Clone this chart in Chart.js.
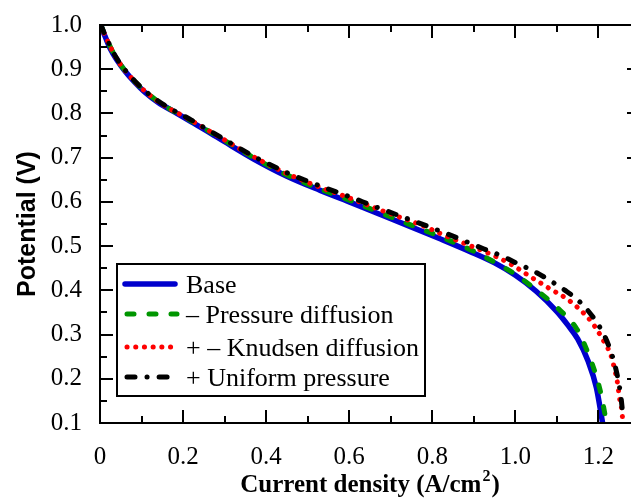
<!DOCTYPE html>
<html>
<head>
<meta charset="utf-8">
<script src="https://cdn.jsdelivr.net/npm/chart.js@4.4.0/dist/chart.umd.min.js"></script>
<style>
  html, body { margin: 0; padding: 0; background: #fff; overflow: hidden; }
  #wrap { width: 631px; height: 499px; overflow: hidden; }
</style>
</head>
<body>
<div id="wrap"><canvas id="polcurve" width="645" height="499"></canvas></div>
<script>
// polarization curves
const seriesNames = ['Base', '\u2013 Pressure diffusion', '+ \u2013 Knudsen diffusion', '+ Uniform pressure'];

const baseX = [0.002, 0.006, 0.012, 0.024, 0.04, 0.06, 0.084, 0.108, 0.14, 0.18, 0.22, 0.26, 0.30, 0.37, 0.45, 0.53, 0.60, 0.66, 0.74, 0.82, 0.89, 0.95, 1.0, 1.05, 1.10, 1.125, 1.15, 1.175, 1.195, 1.21];
const baseV = [1.0, 0.988, 0.975, 0.948, 0.922, 0.896, 0.870, 0.848, 0.825, 0.803, 0.781, 0.759, 0.736, 0.697, 0.658, 0.626, 0.600, 0.577, 0.547, 0.516, 0.488, 0.462, 0.434, 0.398, 0.352, 0.323, 0.290, 0.240, 0.180, 0.100];

const pressX = [0.002, 0.012, 0.04, 0.084, 0.14, 0.22, 0.30, 0.37, 0.45, 0.53, 0.60, 0.66, 0.74, 0.82, 0.896, 0.947, 1.0, 1.053, 1.104, 1.149, 1.175, 1.193, 1.207, 1.217, 1.22];
const pressV = [1.0, 0.977, 0.924, 0.872, 0.827, 0.783, 0.739, 0.700, 0.661, 0.629, 0.604, 0.581, 0.551, 0.521, 0.490, 0.465, 0.436, 0.399, 0.358, 0.311, 0.258, 0.211, 0.162, 0.113, 0.100];

const knudX = [0.002, 0.012, 0.04, 0.084, 0.14, 0.22, 0.30, 0.37, 0.45, 0.53, 0.60, 0.66, 0.72, 0.78, 0.83, 0.875, 0.947, 0.993, 1.036, 1.084, 1.128, 1.173, 1.19, 1.217, 1.229, 1.238, 1.245, 1.251, 1.256, 1.259];
const knudV = [1.0, 0.977, 0.924, 0.872, 0.827, 0.784, 0.740, 0.702, 0.664, 0.633, 0.609, 0.587, 0.566, 0.545, 0.524, 0.507, 0.479, 0.457, 0.431, 0.403, 0.378, 0.340, 0.320, 0.278, 0.256, 0.225, 0.195, 0.155, 0.130, 0.100];

const uniX = [0.002, 0.012, 0.04, 0.084, 0.14, 0.22, 0.30, 0.37, 0.45, 0.53, 0.60, 0.66, 0.74, 0.78, 0.851, 0.923, 0.969, 1.004, 1.043, 1.08, 1.118, 1.154, 1.188, 1.212, 1.227, 1.239, 1.248, 1.254, 1.258];
const uniV = [1.0, 0.978, 0.925, 0.873, 0.828, 0.785, 0.741, 0.703, 0.666, 0.636, 0.612, 0.590, 0.562, 0.548, 0.522, 0.494, 0.477, 0.461, 0.444, 0.424, 0.401, 0.375, 0.338, 0.302, 0.269, 0.233, 0.195, 0.160, 0.125];

const xTickLabels = ['0', '0.2', '0.4', '0.6', '0.8', '1.0', '1.2'];
const yTickLabels = ['0.1', '0.2', '0.3', '0.4', '0.5', '0.6', '0.7', '0.8', '0.9', '1.0'];

function pts(xs, ys) {
    return xs.map(function (x, i) { return { x: x, y: ys[i] }; });
}

const serif = "'Liberation Serif', 'Times New Roman', serif";
const sans = "'Liberation Sans', Arial, sans-serif";

const styles = [
    { color: 'rgb(0,0,205)', width: 5.5, dash: [], cap: 'round' },
    { color: 'rgb(0,150,0)', width: 5, dash: [7, 15], cap: 'round' },
    { color: 'rgb(255,0,0)', width: 5, dash: [0.1, 8.6], cap: 'round' },
    { color: 'rgb(0,0,0)', width: 5, dash: [8, 12, 0.1, 12], cap: 'round' }
];

// inward ticks on all four sides, frame, legend box and axis titles
const framePlugin = {
    id: 'frame',
    afterDraw: function (chart) {
        const c = chart.ctx;
        const a = chart.chartArea;
        const xs = chart.scales.x;
        const ys = chart.scales.y;
        c.save();
        c.strokeStyle = '#000';
        c.lineWidth = 2;
        c.setLineDash([]);
        c.strokeRect(a.left, a.top, a.right - a.left, a.bottom - a.top);

        c.beginPath();
        for (let i = 0; i <= 13; i++) {
            const px = Math.round(xs.getPixelForValue(i / 10));
            const len = (i % 2 === 0) ? 13 : 7;
            c.moveTo(px, a.bottom); c.lineTo(px, a.bottom - len);
            c.moveTo(px, a.top); c.lineTo(px, a.top + len);
        }
        for (let j = 2; j <= 20; j++) {
            const py = Math.round(ys.getPixelForValue(j / 20));
            const len = (j % 2 === 0) ? 13 : 7;
            c.moveTo(a.left, py); c.lineTo(a.left + len, py);
            c.moveTo(a.right, py); c.lineTo(a.right - len, py);
        }
        c.stroke();

        // legend
        const lx = 117, ly = 264, lw = 308, lh = 132;
        c.fillStyle = '#fff';
        c.fillRect(lx, ly, lw, lh);
        c.lineWidth = 2;
        c.strokeRect(lx, ly, lw, lh);
        const rows = [284, 314, 347, 377];
        c.font = '26px ' + serif;
        c.textAlign = 'left';
        c.textBaseline = 'alphabetic';
        chart.data.datasets.forEach(function (ds, k) {
            const s = styles[k];
            c.beginPath();
            c.strokeStyle = s.color;
            c.lineWidth = s.width;
            c.lineCap = s.cap;
            c.setLineDash(s.dash);
            c.moveTo(k === 0 ? 125 : 127, rows[k]);
            c.lineTo(k === 0 ? 175 : 177, rows[k]);
            c.stroke();
            c.setLineDash([]);
            c.fillStyle = '#000';
            c.fillText(ds.label, 186, rows[k] + 9);
        });

        // x title with superscript
        c.fillStyle = '#000';
        const t1 = 'Current density (A/cm';
        c.font = 'bold 25px ' + serif;
        const w1 = c.measureText(t1).width;
        c.font = 'bold 16px ' + serif;
        const w2 = c.measureText('2').width;
        c.font = 'bold 25px ' + serif;
        const w3 = c.measureText(')').width;
        let tx = (a.left + 640) / 2 - (w1 + w2 + w3 + 2) / 2;
        const base = 492;
        c.fillText(t1, tx, base);
        tx += w1 + 1;
        c.font = 'bold 16px ' + serif;
        c.fillText('2', tx, base - 11);
        tx += w2 + 1;
        c.font = 'bold 25px ' + serif;
        c.fillText(')', tx, base);

        // y title
        c.translate(35, (a.top + a.bottom) / 2);
        c.rotate(-Math.PI / 2);
        c.font = 'bold 25px ' + sans;
        c.textAlign = 'center';
        c.fillText('Potential (V)', 0, 0);
        c.restore();
    }
};

const ctx = document.getElementById('polcurve');

new Chart(ctx, {
    type: 'scatter',
    data: {
        datasets: [
            { label: seriesNames[0], data: pts(baseX, baseV), order: 4 },
            { label: seriesNames[1], data: pts(pressX, pressV), order: 3 },
            { label: seriesNames[2], data: pts(knudX, knudV), order: 2 },
            { label: seriesNames[3], data: pts(uniX, uniV), order: 1 }
        ].map(function (ds, k) {
            const s = styles[k];
            return Object.assign(ds, {
                showLine: true,
                pointRadius: 0,
                borderColor: s.color,
                backgroundColor: s.color,
                borderWidth: s.width,
                borderDash: s.dash,
                borderCapStyle: s.cap,
                borderJoinStyle: 'round',
                cubicInterpolationMode: 'monotone'
            });
        })
    },
    options: {
        responsive: false,
        animation: false,
        devicePixelRatio: 1,
        layout: { padding: { top: 17, right: 5, left: 0, bottom: 0 } },
        scales: {
            x: {
                type: 'linear',
                min: 0,
                max: 1.3,
                grid: { display: false },
                border: { display: false },
                ticks: {
                    stepSize: 0.2,
                    includeBounds: false,
                    maxRotation: 0,
                    padding: 11,
                    color: '#000',
                    font: { family: serif, size: 25 },
                    callback: function (v) {
                        const i = Math.round(v * 5);
                        return xTickLabels[i] !== undefined ? xTickLabels[i] : '';
                    }
                },
                afterFit: function (scale) { scale.height = 76; }
            },
            y: {
                type: 'linear',
                min: 0.1,
                max: 1.0,
                grid: { display: false },
                border: { display: false },
                ticks: {
                    stepSize: 0.1,
                    padding: 10,
                    color: '#000',
                    font: { family: serif, size: 25 },
                    callback: function (v) {
                        const i = Math.round(v * 10) - 1;
                        return yTickLabels[i] !== undefined ? yTickLabels[i] : '';
                    }
                },
                afterFit: function (scale) { scale.width = 100; }
            }
        },
        plugins: {
            legend: { display: false },
            tooltip: { enabled: false }
        }
    },
    plugins: [framePlugin]
});
</script>
</body>
</html>
